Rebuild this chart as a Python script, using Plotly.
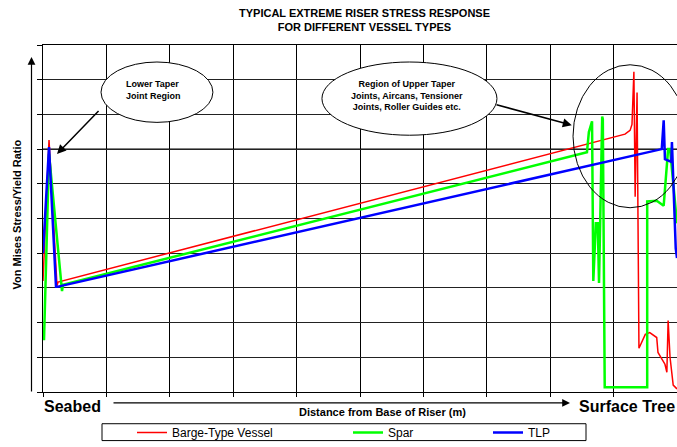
import plotly.graph_objects as go

# Distance along riser (% of length, seabed=0 -> surface tree=100) and stress/yield ratio
barge_x = [0.0, 0.95, 2.21, 2.37, 91.8, 92.6, 92.9, 93.2, 93.4, 93.7, 94.0, 95.0, 95.7, 96.8, 97.0, 98.1, 98.4, 98.6, 98.9, 99.4, 100.0]
barge_y = [0.32, 0.726, 0.306, 0.317, 0.743, 0.754, 0.771, 0.923, 0.563, 0.863, 0.126, 0.166, 0.171, 0.157, 0.114, 0.08, 0.057, 0.206, 0.10, 0.02, 0.009]

spar_x = [0.16, 0.95, 3.0, 3.15, 85.8, 86.1, 86.6, 86.8, 87.2, 87.5, 87.7, 88.2, 88.3, 88.6, 95.3, 95.3, 96.8, 97.9, 98.6, 98.9, 100.0]
spar_y = [0.149, 0.686, 0.291, 0.309, 0.691, 0.749, 0.78, 0.32, 0.486, 0.486, 0.314, 0.794, 0.786, 0.014, 0.014, 0.549, 0.551, 0.537, 0.70, 0.70, 0.486]

tlp_x = [0.0, 0.95, 2.05, 2.21, 97.6, 97.9, 98.1, 98.6, 99.1, 99.2, 99.8, 100.0]
tlp_y = [0.40, 0.706, 0.303, 0.303, 0.70, 0.783, 0.671, 0.666, 0.663, 0.72, 0.414, 0.386]

series_names = ["Barge-Type Vessel", "Spar", "TLP"]
title_lines = ["TYPICAL EXTREME RISER STRESS RESPONSE", "FOR DIFFERENT VESSEL TYPES"]

FONT = "Liberation Sans, Arial, sans-serif"

fig = go.Figure()
fig.add_trace(go.Scatter(x=barge_x, y=barge_y, mode="lines", name=series_names[0],
                         line=dict(color="#FF0000", width=1.5), legend="legend"))
fig.add_trace(go.Scatter(x=spar_x, y=spar_y, mode="lines", name=series_names[1],
                         line=dict(color="#00FF00", width=2.5), legend="legend2"))
fig.add_trace(go.Scatter(x=tlp_x, y=tlp_y, mode="lines", name=series_names[2],
                         line=dict(color="#0000FF", width=2.5), legend="legend3"))

L, R, T, B = 43, 0, 45, 52
W, H = 677, 447
pw, ph = W - L - R, H - T - B

def px(xp):
    return (xp - L) / pw

def py(yp):
    return (H - B - yp) / ph

leg_common = dict(orientation="h", yanchor="middle", xanchor="left",
                  bgcolor="rgba(0,0,0,0)", borderwidth=0,
                  font=dict(family=FONT, size=12, color="#000"),
                  itemwidth=30, y=py(436))

fig.update_layout(
    width=W, height=H,
    margin=dict(l=L, r=R, t=T, b=B, pad=0),
    paper_bgcolor="white", plot_bgcolor="white",
    showlegend=True,
    legend=dict(leg_common, x=px(132)),
    legend2=dict(leg_common, x=px(348)),
    legend3=dict(leg_common, x=px(488)),
    xaxis=dict(range=[0, 100], dtick=10, tick0=0, showgrid=True, gridcolor="#000", gridwidth=1,
               showline=True, linecolor="#000", linewidth=1, mirror=True,
               ticks="outside", ticklen=4, tickcolor="#000", showticklabels=False, zeroline=False),
    yaxis=dict(range=[0, 1], dtick=0.1, tick0=0, showgrid=True, gridcolor="#222", gridwidth=1,
               showline=True, linecolor="#000", linewidth=1, mirror=True,
               ticks="outside", ticklen=5, tickcolor="#000", showticklabels=False, zeroline=False),
)

shapes = [
    # highlighted grid line
    dict(type="line", xref="paper", yref="y", x0=0, x1=1, y0=0.7, y1=0.7,
         line=dict(color="#808080", width=2), layer="between"),
    # annotation ellipses
    dict(type="circle", xref="x", yref="y", x0=9.15, x1=26.8, y0=0.777, y1=0.951,
         line=dict(color="#000", width=1), fillcolor="white", layer="above"),
    dict(type="circle", xref="x", yref="y", x0=44.0, x1=71.6, y0=0.74, y1=0.951,
         line=dict(color="#000", width=1), fillcolor="white", layer="above"),
    dict(type="circle", xref="x", yref="y", x0=83.6, x1=101.6, y0=0.531, y1=0.943,
         line=dict(color="#000", width=1), fillcolor="rgba(0,0,0,0)", layer="above"),
    # legend box
    dict(type="rect", xref="paper", yref="paper", x0=px(102), x1=px(586), y0=py(444), y1=py(427),
         line=dict(color="#000", width=1), fillcolor="white", layer="below"),
]
fig.update_layout(shapes=shapes)

ann = []
ann.append(dict(xref="paper", yref="paper", x=px(364), y=py(20), xanchor="center", yanchor="middle",
                text="<b>" + title_lines[0] + "</b><br><b>" + title_lines[1] + "</b>",
                showarrow=False, font=dict(family=FONT, size=11, color="#000")))
ann.append(dict(xref="paper", yref="paper", x=px(17.5), y=py(216.5), textangle=-90,
                xanchor="center", yanchor="middle", text="<b>Von Mises Stress/Yield Ratio</b>",
                showarrow=False, font=dict(family=FONT, size=11, color="#000")))
ann.append(dict(xref="paper", yref="paper", x=px(42), y=py(410), xanchor="left", yanchor="middle",
                text="<b>Seabed</b>", showarrow=False, font=dict(family=FONT, size=16, color="#000")))
ann.append(dict(xref="paper", yref="paper", x=px(577), y=py(410), xanchor="left", yanchor="middle",
                text="<b>Surface Tree</b>", showarrow=False, font=dict(family=FONT, size=16, color="#000")))
ann.append(dict(xref="paper", yref="paper", x=px(382), y=py(415), xanchor="center", yanchor="middle",
                text="<b>Distance from Base of Riser (m)</b>", showarrow=False,
                font=dict(family=FONT, size=11, color="#000")))
# axis arrows
ann.append(dict(xref="paper", yref="paper", x=px(570), y=py(406), ax=-458, ay=0, text="",
                showarrow=True, arrowhead=2, arrowsize=1.3, arrowwidth=1.2, arrowcolor="#000"))
ann.append(dict(xref="paper", yref="paper", x=px(31.5), y=py(57), ax=0, ay=336, text="",
                showarrow=True, arrowhead=2, arrowsize=1.3, arrowwidth=1.2, arrowcolor="#000"))
# ellipse texts
ann.append(dict(xref="x", yref="y", x=17.4, y=0.87, xanchor="center", yanchor="middle",
                text="<b>Lower Taper<br>Joint Region</b>", align="left", showarrow=False,
                font=dict(family=FONT, size=9, color="#000")))
ann.append(dict(xref="x", yref="y", x=57.4, y=0.855, xanchor="center", yanchor="middle",
                text="<b>Region of Upper Taper<br>Joints, Aircans, Tensioner<br>Joints, Roller Guides etc.</b>",
                align="center", showarrow=False, font=dict(family=FONT, size=9, color="#000")))
# pointer arrows
ann.append(dict(xref="x", yref="y", axref="x", ayref="y", x=2.21, y=0.686, ax=8.99, ay=0.814,
                text="", showarrow=True, arrowhead=2, arrowsize=1.2, arrowwidth=1.5, arrowcolor="#000"))
ann.append(dict(xref="x", yref="y", axref="x", ayref="y", x=83.4, y=0.769, ax=71.3, ay=0.829,
                text="", showarrow=True, arrowhead=2, arrowsize=1.2, arrowwidth=1.5, arrowcolor="#000"))
fig.update_layout(annotations=ann)

fig.write_html("out.html", config={"displayModeBar": False},
               post_script="document.body.style.margin='0';document.body.style.overflow='hidden';")
